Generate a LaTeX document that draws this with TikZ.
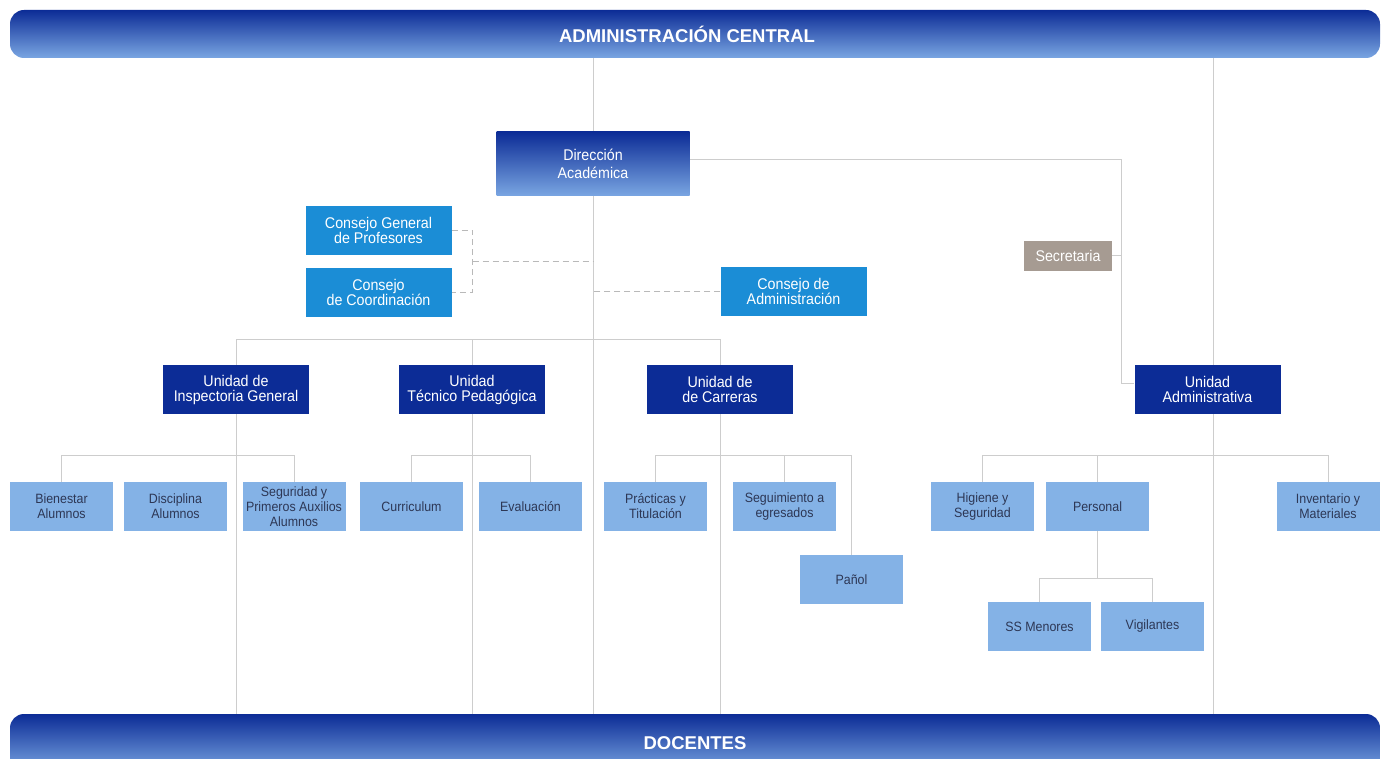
\documentclass[tikz,border=0pt]{standalone}
\usepackage{fontspec}
\newfontfamily\orgfont{Liberation Sans}[FakeStretch=0.92]
\newfontfamily\barfont{Liberation Sans}
\usepackage{tikz}
\usetikzlibrary{calc,backgrounds}

\definecolor{navy}{RGB}{12,44,150}
\definecolor{barlight}{RGB}{122,166,226}
\definecolor{council}{RGB}{27,141,214}
\definecolor{leafblue}{RGB}{132,178,230}
\definecolor{leaftext}{RGB}{45,55,85}
\definecolor{secgray}{RGB}{166,155,146}
\definecolor{linegray}{RGB}{205,205,205}

\begin{document}
\begin{tikzpicture}[x=1pt,y=-1pt,
    bar/.style={rounded corners=14pt,minimum width=1370pt,minimum height=48pt,
      top color=navy,bottom color=barlight,text=white,
      font=\barfont\bfseries\fontsize{18.5}{20}\selectfont},
    unit/.style={fill=navy,text=white,minimum width=146pt,minimum height=49pt,
      align=center,inner sep=0pt,font=\orgfont\fontsize{15.5}{15}\selectfont},
    council/.style={unit,fill=council},
    leaf/.style={fill=leafblue,text=leaftext,minimum width=103pt,minimum height=49pt,
      align=center,inner sep=0pt,font=\orgfont\fontsize{13.5}{15}\selectfont},
    conn/.style={draw=linegray,line width=1pt},
    dashconn/.style={draw=gray!55,line width=1pt,dash pattern=on 6pt off 4pt}]
  \useasboundingbox (0,0) rectangle (1385,759);
  % bars
  \node[bar] (top) at (695,34) {\hspace*{-16pt}ADMINISTRACIÓN CENTRAL};
  \node[bar,minimum height=58pt] (bot) at (695,743) {DOCENTES};
  % direction and councils
  \node[unit,minimum width=193pt,minimum height=64pt,fill=none,top color=navy,
    bottom color=barlight,font=\orgfont\fontsize{15.5}{18}\selectfont] (dir) at (593,164) {Dirección\\Académica};
  \node[council] (cgp) at (378.5,230.5) {Consejo General\\de Profesores};
  \node[council] (cco) at (378.5,292.5) {Consejo\\de Coordinación};
  \node[council] (cadm) at (793.5,291.5) {Consejo de\\Administración};
  \node[unit,fill=secgray,minimum width=88pt,minimum height=30pt] (sec) at (1068,256) {Secretaria};
  % units
  \node[unit] (uig) at (236,389.5) {Unidad de\\Inspectoria General};
  \node[unit] (utp) at (472,389.5) {Unidad\\Técnico Pedagógica};
  \node[unit] (uca) at (720,389.5) {Unidad de\\de Carreras};
  \node[unit] (uad) at (1207.5,389.5) {Unidad\\Administrativa};
  % leaves
  \foreach \n/\x/\t in {bie/61.5/{Bienestar\\Alumnos},dis/175.5/{Disciplina\\Alumnos},
      seg/294/{Seguridad y\\Primeros Auxilios\\Alumnos},cur/411.5/{Curriculum},
      eva/530.5/{Evaluación},pra/655.5/{Prácticas y\\Titulación},
      sgm/784.5/{Seguimiento a\\egresados},hig/982.5/{Higiene y\\Seguridad},
      per/1097.5/{Personal},inv/1328/{Inventario y\\Materiales}}{
    \node[leaf] (\n) at (\x,506.5) {\t};
  }
  \node[leaf] (pan) at (851.5,579.5) {Pañol};
  \node[leaf] (ssm) at (1039.5,626.5) {SS Menores};
  \node[leaf] (vig) at (1152.5,626.5) {Vigilantes};

  \begin{pgfonlayer}{background}
    \coordinate (rx) at ([xshift=5.5pt]uad.center);
    \coordinate (bus) at (0,340);
    \coordinate (lb) at (0,455);
    \coordinate (pb) at (0,578);
    \coordinate (dj) at ($(cgp.east)!.5!(cco.east)$);
    % main lines
    \draw[conn] (top.south -| dir) -- (bot.north -| dir);
    \draw[conn] (top.south -| rx) -- (bot.north -| rx);
    \draw[conn] ([yshift=4pt]dir.east) -| ([shift={(-13pt,6pt)}]uad.west) -- ([yshift=6pt]uad.west);
    \draw[conn] (sec.east) -- ++(9,0);
    % councils
    \draw[dashconn] (cgp.east) -- ++(21,0) |- (cco.east);
    \draw[dashconn] (dj) ++(21,0) -- (dir |- dj);
    \draw[dashconn] (cadm.west) -- (cadm.west -| dir);
    % units
    \draw[conn] (bot.north -| uig) -- (bus -| uig) -- (bus -| uca) -- (bot.north -| uca);
    \draw[conn] (bus -| utp) -- (bot.north -| utp);
    % leaves
    \draw[conn] (bie.north) -- (bie |- lb) -- (seg |- lb) -- (seg.north);
    \draw[conn] (cur.north) -- (cur |- lb) -- (eva |- lb) -- (eva.north);
    \draw[conn] (pra.north) -- (pra |- lb) -- (pan |- lb) -- (pan.north);
    \draw[conn] (sgm.north) -- (sgm |- lb);
    \draw[conn] (hig.north) -- (hig |- lb) -- (inv |- lb) -- (inv.north);
    \draw[conn] (per.north) -- (per |- lb);
    \draw[conn] (per.south) -- (per |- pb);
    \draw[conn] (ssm.north) -- (ssm |- pb) -- (vig |- pb) -- (vig.north);
  \end{pgfonlayer}
\end{tikzpicture}
\end{document}
